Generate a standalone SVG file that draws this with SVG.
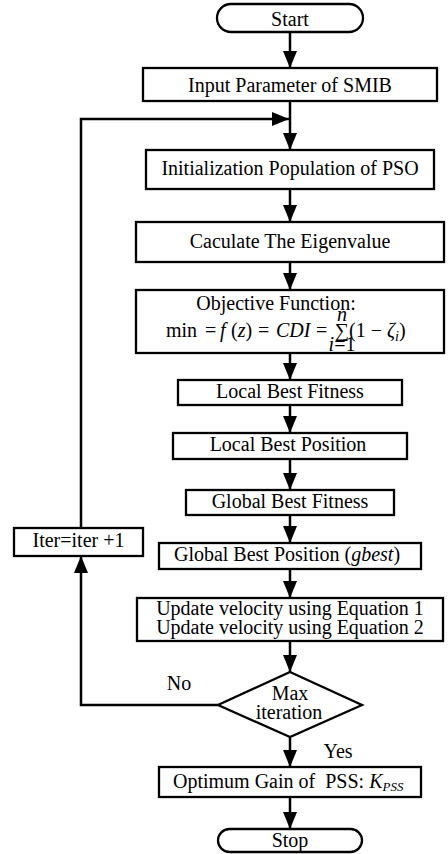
<svg xmlns="http://www.w3.org/2000/svg" width="448" height="854" viewBox="0 0 448 854">
<defs>
<marker id="ah" markerUnits="userSpaceOnUse" markerWidth="18" markerHeight="14" refX="17" refY="7" orient="auto">
<path d="M0,0 L17,7 L0,14 Z" fill="#000"/>
</marker>
</defs>
<style>
.b{fill:#fff;stroke:#000;stroke-width:2.3}
.t{font-family:"Liberation Serif","Times New Roman",serif;font-size:20px;fill:#000;text-anchor:middle}
.s{text-anchor:start}
.i{font-style:italic}
.c{fill:none;stroke:#000;stroke-width:2.5}
</style>
<rect width="448" height="854" fill="#fff"/>
<g id="connectors">
<path class="c" d="M290,32 V68" marker-end="url(#ah)"/>
<path class="c" d="M290,101 V150" marker-end="url(#ah)"/>
<path class="c" d="M81,528 V119 H289" marker-end="url(#ah)"/>
<path class="c" d="M290,189 V222" marker-end="url(#ah)"/>
<path class="c" d="M290,262 V290" marker-end="url(#ah)"/>
<path class="c" d="M290,353 V380" marker-end="url(#ah)"/>
<path class="c" d="M290,405 V433" marker-end="url(#ah)"/>
<path class="c" d="M290,459 V490" marker-end="url(#ah)"/>
<path class="c" d="M290,515 V543" marker-end="url(#ah)"/>
<path class="c" d="M290,569 V598" marker-end="url(#ah)"/>
<path class="c" d="M290,641 V672" marker-end="url(#ah)"/>
<path class="c" d="M290,737 V767" marker-end="url(#ah)"/>
<path class="c" d="M290,797 V829" marker-end="url(#ah)"/>
<path class="c" d="M218,705 H81 V556" marker-end="url(#ah)"/>
<text class="t" x="179" y="690">No</text>
<text class="t" x="338" y="758">Yes</text>
</g>
<g id="start"><rect class="b" x="217" y="4" width="146" height="28" rx="14"/><text class="t" x="290" y="26" font-size="21">Start</text></g>
<g id="input"><rect class="b" x="143" y="68" width="294" height="33"/><text class="t" x="290" y="92">Input Parameter of SMIB</text></g>
<g id="init"><rect class="b" x="146" y="150" width="288" height="39"/><text class="t" x="290" y="175">Initialization Population of PSO</text></g>
<g id="eigen"><rect class="b" x="136" y="222" width="308" height="40"/><text class="t" x="290" y="248">Caculate The Eigenvalue</text></g>
<g id="objective"><rect class="b" x="136" y="290" width="308" height="63"/>
<text class="t" x="276" y="310">Objective Function:</text>
<g font-size="21">
<text class="t s" x="166" y="337" font-size="21">min</text>
<text class="t s" x="205" y="337" font-size="21">=</text>
<text class="t s i" x="220" y="337" font-size="21">f</text>
<text class="t s" x="231" y="337" font-size="21">(<tspan class="i">z</tspan>)</text>
<text class="t s" x="258" y="337" font-size="21">=</text>
<text class="t s i" x="276" y="337" font-size="21">CDI</text>
<text class="t s" x="316" y="337" font-size="21">=</text>
<text class="t" x="342" y="337" font-size="18">∑</text>
<text class="t s" x="349" y="337" font-size="21">(1 − <tspan class="i">ζ</tspan><tspan class="i" font-size="14" dy="4">i</tspan><tspan dy="-4">)</tspan></text>
</g>
<text class="t i" x="342" y="321" font-size="17">n</text>
<text class="t" x="342" y="351" font-size="17"><tspan class="i">i</tspan>=1</text>
</g>
<g id="lbf"><rect class="b" x="178" y="380" width="224" height="25"/><text class="t" x="290" y="398">Local Best Fitness</text></g>
<g id="lbp"><rect class="b" x="173" y="433" width="234" height="26"/><text class="t" x="288" y="451">Local Best Position</text></g>
<g id="gbf"><rect class="b" x="186" y="490" width="208" height="25"/><text class="t" x="290" y="508">Global Best Fitness</text></g>
<g id="gbp"><rect class="b" x="159" y="543" width="262" height="26"/><text class="t" x="287" y="561">Global Best Position (<tspan class="i">gbest</tspan>)</text></g>
<g id="update"><rect class="b" x="137" y="598" width="306" height="43"/><text class="t" x="290" y="615">Update velocity using Equation 1</text><text class="t" x="290" y="634">Update velocity using Equation 2</text></g>
<g id="decision"><path class="b" d="M290,672 L362,705 L290,737 L218,705 Z"/><text class="t" x="290" y="700">Max</text><text class="t" x="289" y="719">iteration</text></g>
<g id="iter"><rect class="b" x="14" y="528" width="129" height="28"/><text class="t" x="78.5" y="547">Iter=iter +1</text></g>
<g id="optimum"><rect class="b" x="159" y="767" width="262" height="30"/><text class="t s" x="173" y="788" xml:space="preserve">Optimum Gain of  PSS: <tspan class="i">K</tspan><tspan class="i" font-size="13" dy="3">PSS</tspan></text></g>
<g id="stop"><rect class="b" x="218" y="829" width="144" height="23" rx="11.5"/><text class="t" x="290" y="847" font-size="21">Stop</text></g>
</svg>
